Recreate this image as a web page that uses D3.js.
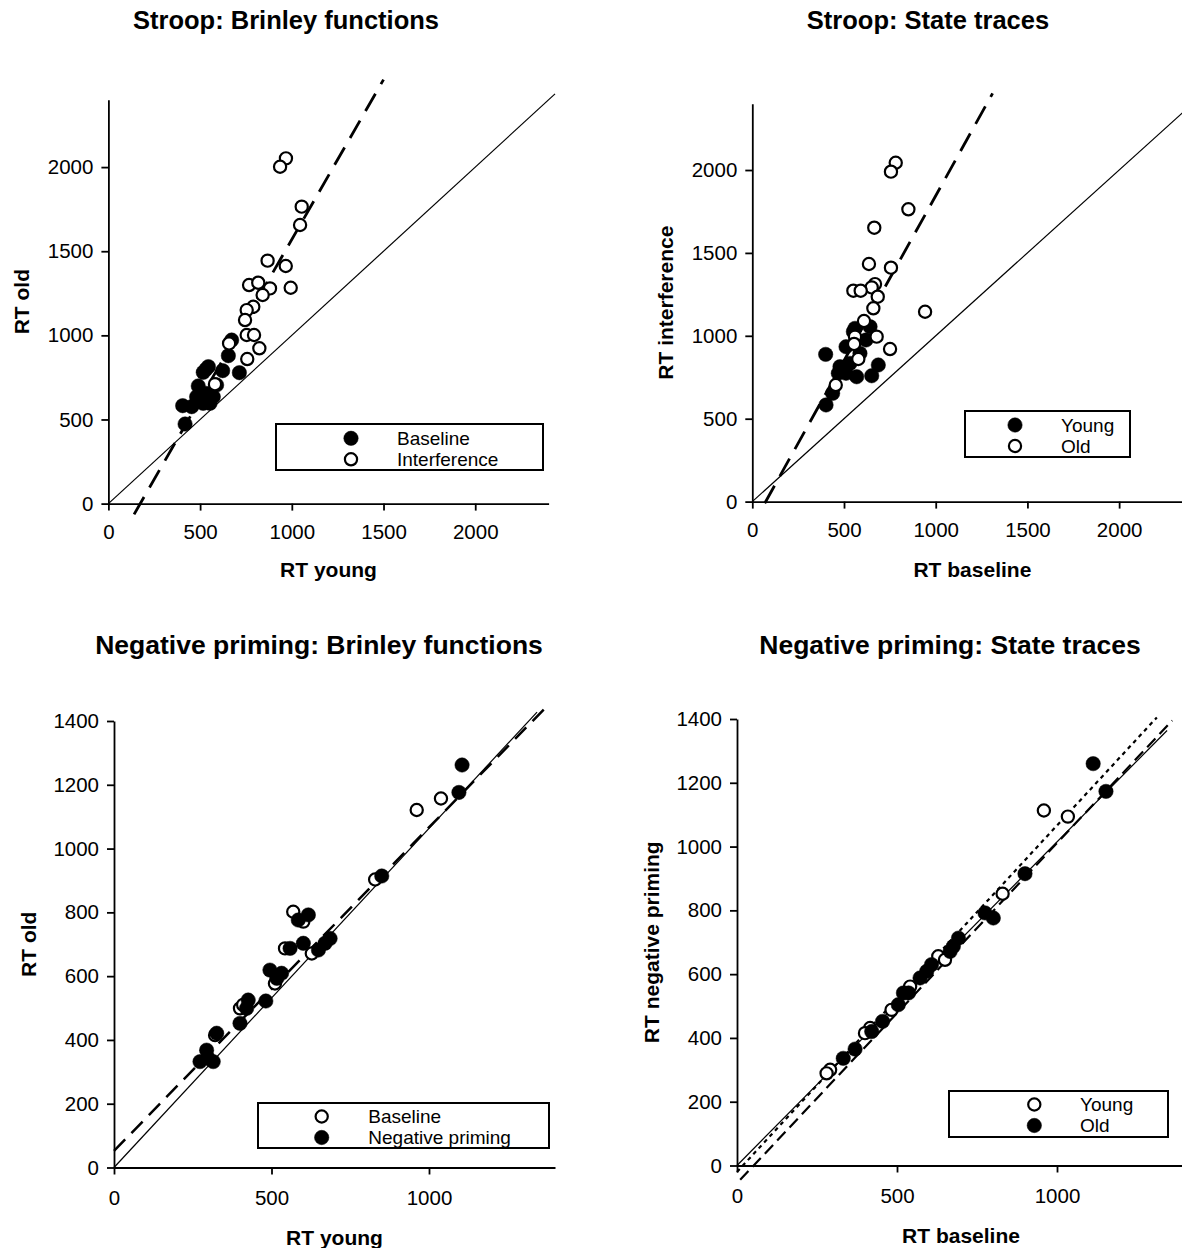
<!DOCTYPE html>
<html><head><meta charset="utf-8">
<script src="https://cdn.jsdelivr.net/npm/d3@7"></script>
<style>
body{margin:0;background:#fff}
svg{display:block}
</style>
</head><body>
<svg id="c" width="1182" height="1248"></svg>
<script>
// ---------------- DATA ----------------
// Panel 1: Stroop Brinley functions (x = RT young, y = RT old)
const stroopBrinleyBaseline = [[418,473],[405,582],[454,576],[490,699],[517,780],[532,798],[545,814],[623,790],[714,778],[654,879],[672,972],[499,635],[481,635],[536,655],[572,635],[554,596],[517,596],[590,705]];
const stroopBrinleyInterference = [[968,2052],[936,2002],[1054,1765],[1045,1656],[868,1444],[967,1412],[994,1283],[767,1299],[817,1313],[881,1279],[841,1240],[790,1170],[754,1150],[745,1091],[754,1002],[794,1002],[823,923],[757,859],[658,952],[581,710]];
const stroopBrinleyIdentity = [[0,0],[2435,2435]];
const stroopBrinleyFit = [[140,-64],[1500,2520]];

// Panel 2: Stroop state traces (x = RT baseline, y = RT interference)
const stroopStateYoung = [[400,888],[402,583],[438,653],[478,814],[511,934],[560,1045],[642,1055],[620,975],[469,774],[511,774],[569,753],[651,759],[687,824],[533,834],[587,894],[551,1025]];
const stroopStateOld = [[782,2044],[756,1990],[851,1763],[665,1652],[636,1433],[756,1411],[669,1312],[651,1292],[551,1272],[591,1272],[684,1236],[660,1166],[942,1145],[609,1089],[560,995],[678,995],[555,951],[578,860],[751,920],[455,703]];
const stroopStateIdentity = [[0,0],[2435,2435]];
const stroopStateFit = [[68,-10],[1310,2462]];

// Panel 3: Negative priming Brinley functions (x = RT young, y = RT old)
const npBrinleyBaseline = [[1038,1157],[961,1121],[829,903],[569,802],[601,771],[628,671],[543,687],[511,577],[400,499],[410,510],[321,415]];
const npBrinleyNegative = [[1105,1262],[1095,1176],[850,914],[617,792],[585,776],[686,718],[670,703],[649,682],[601,703],[559,687],[495,619],[532,609],[517,593],[482,522],[426,525],[421,499],[400,452],[326,421],[294,368],[273,332],[315,332],[299,342]];
const npBrinleySolid = [[0,0],[1343,1428]];
const npBrinleyDashed = [[0,52],[1381,1453]];

// Panel 4: Negative priming state traces (x = RT baseline, y = RT negative priming)
const npStateYoung = [[959,1113],[1034,1094],[830,852],[629,656],[541,561],[650,645],[483,488],[416,431],[400,415],[291,300],[280,289]];
const npStateOld = [[1113,1260],[1153,1173],[900,915],[801,776],[775,792],[692,713],[676,687],[666,671],[608,630],[593,609],[572,588],[520,541],[536,541],[504,504],[455,452],[421,420],[369,365],[332,336]];
const npStateSolid = [[0,0],[1344,1364]];
const npStateDashed = [[10,-45],[1360,1395]];
const npStateDotted = [[0,-20],[1312,1405]];

// Tick values
const stroopTicks = [0,500,1000,1500,2000];
const npXTicks = [0,500,1000];
const npYTicks = [0,200,400,600,800,1000,1200,1400];

// ---------------- DRAWING ----------------
const FONT = '"Liberation Sans", Arial, Helvetica, sans-serif';
const svg = d3.select("#c");

function panel(cfg){
  const g = svg.append("g");
  const x = d3.scaleLinear().domain(cfg.xDomain).range(cfg.xRange);
  const y = d3.scaleLinear().domain(cfg.yDomain).range(cfg.yRange);

  const xa = d3.axisBottom(x).tickValues(cfg.xTicks).tickSize(7).tickSizeOuter(0).tickPadding(cfg.xPad).tickFormat(d3.format("d"));
  const ya = d3.axisLeft(y).tickValues(cfg.yTicks).tickSize(7).tickSizeOuter(0).tickPadding(cfg.yPad).tickFormat(d3.format("d"));
  const gx = g.append("g").attr("transform", `translate(0,${y(0)})`).call(xa);
  const gy = g.append("g").attr("transform", `translate(${x(0)},0)`).call(ya);
  [gx, gy].forEach(a => {
    a.selectAll("path,line").attr("stroke", "#000").attr("stroke-width", 1.8);
    a.selectAll("text").attr("font-size", 20.5).attr("font-family", FONT).attr("fill", "#000");
  });

  const line = d3.line().x(d => x(d[0])).y(d => y(d[1]));
  cfg.lines.forEach(l => {
    g.append("path").datum(l.pts).attr("d", line).attr("fill", "none")
      .attr("stroke", "#000").attr("stroke-width", l.w)
      .attr("stroke-dasharray", l.dash || null);
  });

  cfg.series.forEach(s => {
    g.append("g").selectAll("circle").data(s.pts).join("circle")
      .attr("cx", d => x(d[0])).attr("cy", d => y(d[1]))
      .attr("r", s.filled ? 7.2 : 6.1)
      .attr("fill", s.filled ? "#000" : "#fff")
      .attr("stroke", "#000").attr("stroke-width", s.filled ? 0.5 : 2.2);
  });

  // legend
  const L = cfg.legend;
  g.append("rect").attr("x", L.box[0]).attr("y", L.box[1])
    .attr("width", L.box[2]-L.box[0]).attr("height", L.box[3]-L.box[1])
    .attr("fill", "#fff").attr("stroke", "#000").attr("stroke-width", 2);
  const mid = (L.rows[0] + L.rows[1]) / 2;
  const rows = [mid - 10.5, mid + 10.5];
  L.items.forEach((it, i) => {
    g.append("circle").attr("cx", L.sx).attr("cy", rows[i])
      .attr("r", it.filled ? 7.2 : 6.1)
      .attr("fill", it.filled ? "#000" : "#fff")
      .attr("stroke", "#000").attr("stroke-width", it.filled ? 0.5 : 2.2);
    g.append("text").attr("x", L.tx).attr("y", rows[i] + 6.8)
      .attr("font-size", 19).attr("font-family", FONT).text(it.label);
  });

  // titles
  g.append("text").attr("x", cfg.title[1]).attr("y", cfg.title[2])
    .attr("text-anchor", "middle").attr("font-size", cfg.title[3]).attr("font-weight", "bold")
    .attr("font-family", FONT).text(cfg.title[0]);
  g.append("text").attr("x", (cfg.xRange[0]+cfg.xRange[1])/2).attr("y", cfg.xTitle[1])
    .attr("text-anchor", "middle").attr("font-size", 21).attr("font-weight", "bold")
    .attr("font-family", FONT).text(cfg.xTitle[0]);
  const yc = (cfg.yRange[0]+cfg.yRange[1])/2;
  g.append("text").attr("transform", `translate(${cfg.yTitle[1]},${yc}) rotate(-90)`)
    .attr("text-anchor", "middle").attr("font-size", 21).attr("font-weight", "bold")
    .attr("font-family", FONT).text(cfg.yTitle[0]);
}

panel({
  xDomain:[0,2400], xRange:[108.4,548.6], yDomain:[0,2400], yRange:[503.6,99.8],
  xTicks:stroopTicks, yTicks:stroopTicks, xPad:14, yPad:8,
  lines:[{pts:stroopBrinleyIdentity,w:1.2},{pts:stroopBrinleyFit,w:2.8,dash:"20,11"}],
  series:[{pts:stroopBrinleyBaseline,filled:true},{pts:stroopBrinleyInterference,filled:false}],
  legend:{box:[276,424,543,470], sx:351, tx:397, rows:[439.3,458.3],
    items:[{label:"Baseline",filled:true},{label:"Interference",filled:false}]},
  title:["Stroop: Brinley functions",286,29,25.5],
  xTitle:["RT young",577], yTitle:["RT old",29]
});

panel({
  xDomain:[0,2400], xRange:[752.3,1192.5], yDomain:[0,2400], yRange:[501.6,103.7],
  xTicks:stroopTicks, yTicks:stroopTicks, xPad:14, yPad:8,
  lines:[{pts:stroopStateIdentity,w:1.2},{pts:stroopStateFit,w:2.8,dash:"20,11"}],
  series:[{pts:stroopStateYoung,filled:true},{pts:stroopStateOld,filled:false}],
  legend:{box:[965,411,1130,457], sx:1015, tx:1061, rows:[426.5,444.5],
    items:[{label:"Young",filled:true},{label:"Old",filled:false}]},
  title:["Stroop: State traces",928,29,25.5],
  xTitle:["RT baseline",577], yTitle:["RT interference",673]
});

panel({
  xDomain:[0,1400], xRange:[114,555], yDomain:[0,1400], yRange:[1167.5,721],
  xTicks:npXTicks, yTicks:npYTicks, xPad:16, yPad:8,
  lines:[{pts:npBrinleySolid,w:1.2},{pts:npBrinleyDashed,w:2.5,dash:"16,9"}],
  series:[{pts:npBrinleyBaseline,filled:false},{pts:npBrinleyNegative,filled:true}],
  legend:{box:[258,1103,549,1148], sx:321.7, tx:368.3, rows:[1117.3,1136.7],
    items:[{label:"Baseline",filled:false},{label:"Negative priming",filled:true}]},
  title:["Negative priming: Brinley functions",319,654,26.5],
  xTitle:["RT young",1245], yTitle:["RT old",35.5]
});

panel({
  xDomain:[0,1400], xRange:[737,1185], yDomain:[0,1400], yRange:[1165.5,719],
  xTicks:npXTicks, yTicks:npYTicks, xPad:16, yPad:8,
  lines:[{pts:npStateSolid,w:1.2},{pts:npStateDashed,w:2.2,dash:"12,6"},{pts:npStateDotted,w:2.2,dash:"4,4"}],
  series:[{pts:npStateYoung,filled:false},{pts:npStateOld,filled:true}],
  legend:{box:[949,1091,1168,1137], sx:1034.3, tx:1080, rows:[1105.7,1124.3],
    items:[{label:"Young",filled:false},{label:"Old",filled:true}]},
  title:["Negative priming: State traces",950,654,26.5],
  xTitle:["RT baseline",1243], yTitle:["RT negative priming",658.5]
});
</script>
</body></html>
